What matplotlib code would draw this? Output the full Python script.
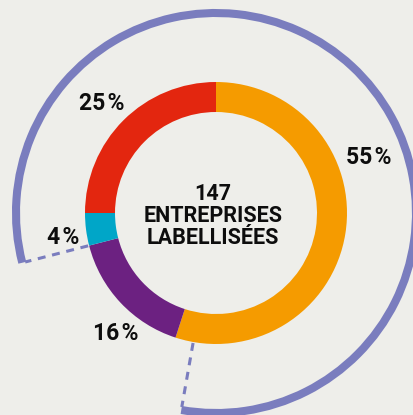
import numpy as np
import matplotlib
matplotlib.use("Agg")
import matplotlib.pyplot as plt
from matplotlib.patches import Arc

# share of labelled companies by category, clockwise from the top
shares = [55, 16, 4, 25]
colors = ["#f59b00", "#6c2181", "#00a6c8", "#e3260f"]
labels = ["55\u200a%", "16\u200a%", "4\u200a%", "25\u200a%"]
label_pos = [(369, 158), (116, 333), (63, 237), (102, 104)]
center_text = ["147", "ENTREPRISES", "LABELLISÉES"]

W, H = 414, 415
bg = "#eeeeea"
ring = "#7a7dbe"
cx, cy = 216, H - 213
r_out, r_in, r_arc = 131, 101, 200
fonts = ["Roboto", "DejaVu Sans"]

fig = plt.figure(figsize=(W / 100, H / 100), dpi=100, facecolor=bg)
ax = fig.add_axes([0, 0, 1, 1])
ax.set_facecolor(bg)

ax.pie(shares, colors=colors, startangle=90, counterclock=False,
       center=(cx, cy), radius=r_out, frame=True,
       wedgeprops=dict(width=r_out - r_in, linewidth=0))
ax.set_xlim(0, W)
ax.set_ylim(0, H)
ax.set_aspect("equal")
ax.axis("off")

# big surrounding arc, open around the purple/teal part
left_end = 90 - 360 * sum(shares[:2]) / 100.0 + 360   # teal/purple boundary
bottom_end = 90 - 190                                # just past the orange end
ax.add_patch(Arc((cx, cy), 2 * r_arc, 2 * r_arc, theta1=bottom_end,
                 theta2=left_end, color=ring, lw=5.8, capstyle="butt"))

# dashed connectors from the ring out to the arc
for ang in (left_end, bottom_end):
    a = np.radians(ang)
    rr = np.array([r_out + 1, r_arc - 3])
    ax.plot(cx + rr * np.cos(a), cy + rr * np.sin(a), color=ring, lw=2.2,
            dashes=(2.6, 2.2), solid_capstyle="butt")

for txt, (x, y) in zip(labels, label_pos):
    ax.text(x, H - y, txt, ha="center", va="center", fontsize=16.5,
            fontweight="bold", family=fonts, color="#0d0d0d")

for i, line in enumerate(center_text):
    ax.text(cx - 3, H - (194 + 22 * i), line, ha="center", va="center",
            fontsize=15.5, fontweight="bold", family=fonts, color="#0d0d0d")

fig.savefig("out.png", dpi=100, facecolor=bg)
